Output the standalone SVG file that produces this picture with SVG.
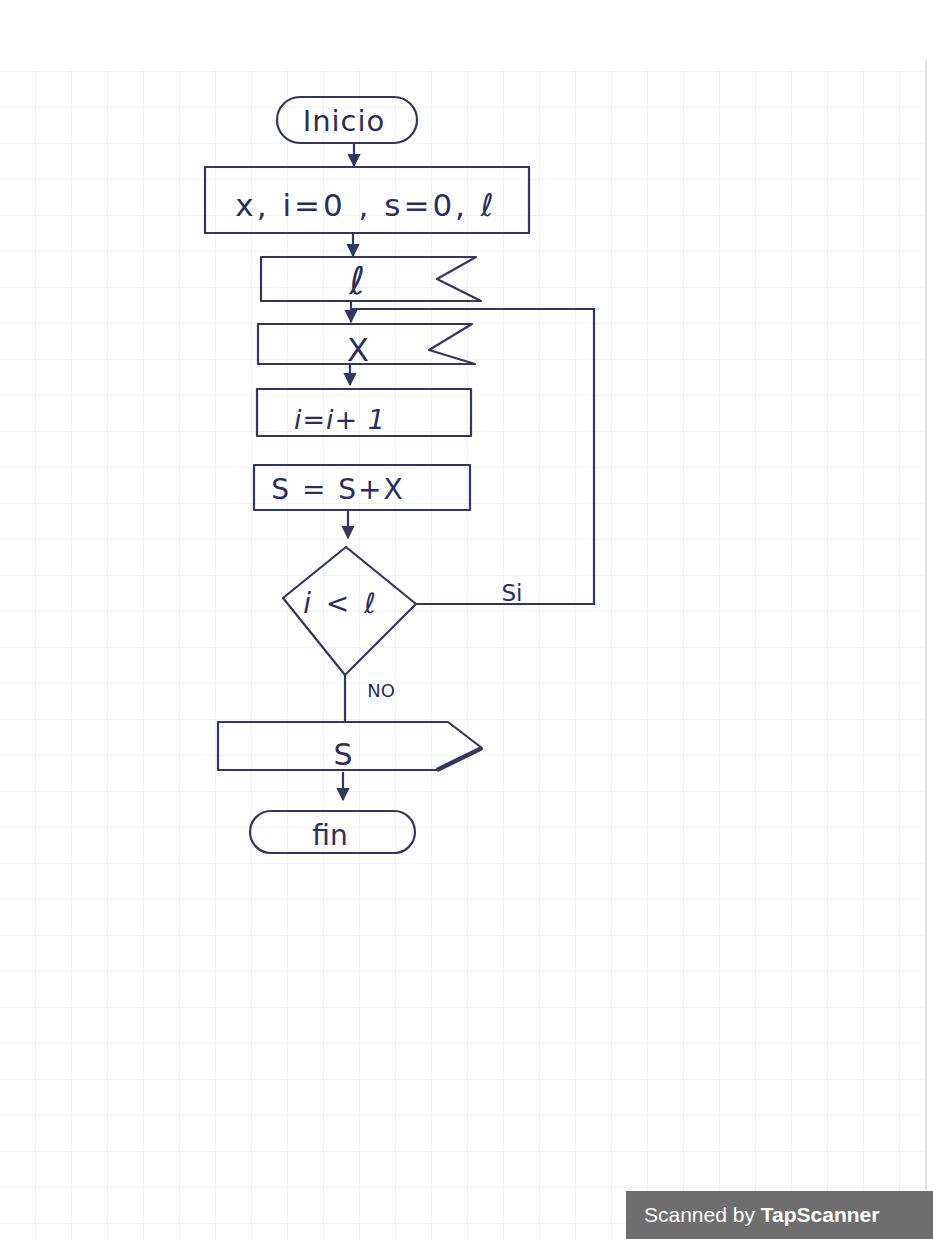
<svg xmlns="http://www.w3.org/2000/svg" width="933" height="1239" viewBox="0 0 933 1239">
<defs>
<style>
.sh{fill:none;stroke:#34375c;stroke-width:2.2;stroke-linejoin:round;stroke-linecap:round}
.ln{fill:none;stroke:#34375c;stroke-width:2.2}
.t{font-family:"DejaVu Sans","Liberation Sans",sans-serif;fill:#2b2e5a;text-anchor:middle}
</style>
<pattern id="grid" x="0" y="0" width="36" height="36" patternUnits="userSpaceOnUse">
<path d="M36 0V36M0 36H36" fill="none" stroke="#eaecf0" stroke-width="1.2"/>
</pattern>
<marker id="ah" viewBox="0 0 10 10" refX="9" refY="5" markerWidth="6" markerHeight="6" orient="auto">
<path d="M0,0L10,5L0,10Z" fill="#34375c"/>
</marker>
</defs>
<rect width="933" height="1239" fill="#ffffff"/>
<rect x="0" y="70" width="925" height="1169" fill="url(#grid)"/>
<line x1="926" y1="60" x2="926" y2="1190" stroke="#d8dade" stroke-width="1.5"/>

<g id="connectors">
<line class="ln" x1="354" y1="143" x2="354" y2="166" marker-end="url(#ah)"/>
<line class="ln" x1="353" y1="233" x2="353" y2="256" marker-end="url(#ah)"/>
<line class="ln" x1="351" y1="302" x2="351" y2="322" marker-end="url(#ah)"/>
<line class="ln" x1="350" y1="364" x2="350" y2="385" marker-end="url(#ah)"/>
<line class="ln" x1="348" y1="510" x2="348" y2="538" marker-end="url(#ah)"/>
<polyline class="ln" points="416,604 594,604 594,309 352,309"/>
<text class="t" x="512" y="601" font-size="23">Si</text>
<line class="ln" x1="345" y1="675" x2="345" y2="722"/>
<text class="t" x="381" y="697" font-size="18">NO</text>
<line class="ln" x1="343" y1="772" x2="343" y2="800" marker-end="url(#ah)"/>
</g>

<g id="inicio">
<rect class="sh" x="277" y="97" width="140" height="46" rx="23"/>
<text class="t" x="344" y="131" font-size="29" letter-spacing="1">Inicio</text>
</g>

<g id="init">
<rect class="sh" x="205" y="167" width="324" height="66"/>
<text class="t" x="366" y="216" font-size="31" letter-spacing="3">x, i=0 , s=0, ℓ</text>
</g>

<g id="read-l">
<path class="sh" d="M261,257H476L437,279L481,301H261Z"/>
<text class="t" x="357" y="294" font-size="38" font-style="italic">ℓ</text>
</g>

<g id="read-x">
<path class="sh" d="M258,324H472L429,350L475,364H258Z"/>
<text class="t" x="358" y="361" font-size="32">X</text>
</g>

<g id="inc-i">
<rect class="sh" x="257" y="389" width="214" height="47"/>
<text class="t" x="340" y="429" font-size="27" font-style="italic" letter-spacing="1">i=i+ 1</text>
</g>

<g id="sum">
<rect class="sh" x="254" y="465" width="216" height="45"/>
<text class="t" x="338" y="499" font-size="28" letter-spacing="2">S = S+X</text>
</g>

<g id="cond">
<path class="sh" d="M346,547L416,604L345,675L283,598Z"/>
<text class="t" x="341" y="613" font-size="28" font-style="italic" letter-spacing="3">i &lt; ℓ</text>
</g>

<g id="output">
<path class="sh" d="M218,722H448L482,748L437,770H218Z"/>
<path d="M437,770L482,748" stroke="#34375c" stroke-width="4.5" fill="none"/>
<text class="t" x="343" y="765" font-size="30">S</text>
</g>

<g id="fin">
<rect class="sh" x="250" y="811" width="165" height="42" rx="21"/>
<text class="t" x="330" y="845" font-size="28">fin</text>
</g>

<g id="badge">
<rect x="626" y="1191" width="307" height="48" fill="#6e6e6e"/>
<text x="644" y="1222" font-family="Liberation Sans, Arial, sans-serif" font-size="21" fill="#ffffff">Scanned by <tspan font-weight="bold">TapScanner</tspan></text>
</g>
</svg>
